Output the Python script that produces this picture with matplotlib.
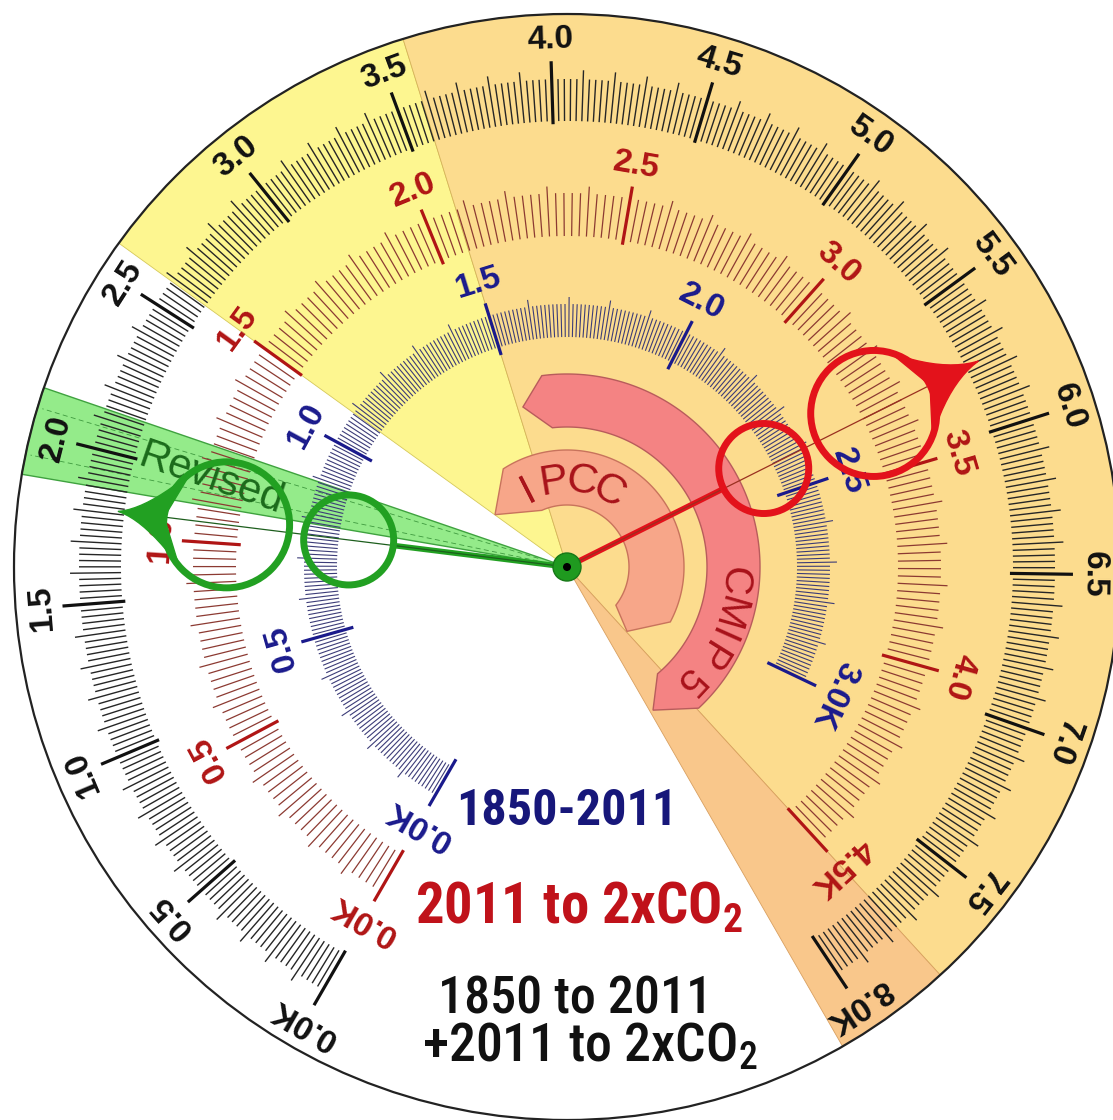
import numpy as np
import matplotlib
matplotlib.use("Agg")
import matplotlib.pyplot as plt
from matplotlib.patches import Polygon, Circle
from matplotlib.collections import LineCollection
from matplotlib import font_manager

# dial geometry (pixels)
W, H = 1113, 1120
CX, CY = 567, 567
R_OUT = 553
ANG0 = 210.0  # compass angle of 0.0 K on every scale

# scales: maximum value (K) and degrees per K
black_max, black_deg = 8.0, 37.05   # 1850 to 2011 + 2011 to 2xCO2
red_max, red_deg = 4.5, 63.9        # 2011 to 2xCO2
blue_max, blue_deg = 3.0, 88.5      # 1850-2011

# pointers, read on the outer (black) scale
pointer_red_K = 5.76
pointer_green_K = 1.81

# "Revised" band on the outer scale
revised_K = (1.88, 2.13)

# salmon bands (compass degrees)
ipcc_span = (327, 478)
cmip5_span = (352.5, 497)

legend_lines = ["1850-2011", "2011 to 2xCO$_2$", "1850 to 2011", "+2011 to 2xCO$_2$"]
legend_colors = ['#17177a', '#c0121a', '#111111', '#111111']

plt.rcParams['font.family'] = ['Liberation Sans', 'DejaVu Sans']
plt.rcParams['mathtext.default'] = 'regular'


def _w(f):
    w = f.weight
    if isinstance(w, str):
        return 700 if 'bold' in w.lower() else 400
    return w


def pick_narrow():
    fl = font_manager.fontManager.ttflist
    for name in ['Liberation Sans Narrow', 'Arial Narrow', 'Roboto Condensed',
                 'PT Sans Narrow', 'Asap Condensed', 'Barlow Semi Condensed']:
        ws = [_w(f) for f in fl if f.name == name]
        if ws:
            return name, any(w >= 600 for w in ws)
    return 'DejaVu Sans', True


NARROW, NARROW_BOLD = pick_narrow()


def xy(theta, r):
    t = np.radians(theta)
    return CX + r * np.sin(t), CY - r * np.cos(t)


def arc(r, th1, th2):
    n = max(8, int(abs(th2 - th1) * 2))
    th = np.radians(np.linspace(th1, th2, n))
    return np.column_stack([CX + r * np.sin(th), CY - r * np.cos(th)])


def sector(ax, th1, th2, r, fc, ec='none', lw=0.6, z=1):
    pts = np.vstack([[CX, CY], arc(r, th1, th2)])
    ax.add_patch(Polygon(pts, closed=True, fc=fc, ec=ec, lw=lw, zorder=z))


def draw_scale(ax, vmax, deg, step, rad, col_major, col_minor, lw_minor, label_r):
    # rad = (minor_in, minor_out, major_in, major_out, medium_out)
    n = int(round(vmax / step))
    per_major = int(round(0.5 / step))
    per_med = int(round(0.1 / step))
    minor, major = [], []
    for i in range(n + 1):
        th = ANG0 + i * step * deg
        if i % per_major == 0:
            major.append([xy(th, rad[2]), xy(th, rad[3])])
        elif i % per_med == 0:
            minor.append([xy(th, rad[0]), xy(th, rad[4])])
        else:
            minor.append([xy(th, rad[0]), xy(th, rad[1])])
    ax.add_collection(LineCollection(minor, colors=col_minor, lw=lw_minor, zorder=3))
    ax.add_collection(LineCollection(major, colors=col_major, lw=2.3, zorder=3))
    for v in np.arange(0, vmax + 0.25, 0.5):
        th = ANG0 + v * deg
        s = f"{v:.1f}"
        if v == 0 or abs(v - vmax) < 1e-6:
            s += "K"
        x, y = xy(th, label_r)
        ax.text(x, y, s, color=col_major, fontsize=24, fontweight='bold',
                rotation=-th, rotation_mode='anchor', ha='center', va='center',
                zorder=4)


def pointer(ax, theta, color, r_tip, hair):
    r1, rad1 = 220, 45
    r2, rad2 = 343, 63
    p1 = xy(theta, r1 - rad1)
    ax.plot([CX, p1[0]], [CY, p1[1]], color=color, lw=4, zorder=8,
            solid_capstyle='round')
    pt = xy(theta, r_tip)
    ax.plot([CX, pt[0]], [CY, pt[1]], color=hair, lw=0.9, zorder=8)
    for rc, rr in ((r1, rad1), (r2, rad2)):
        ax.add_patch(Circle(xy(theta, rc), rr, fill=False, ec=color, lw=5, zorder=8))
    # teardrop arrow head on the big circle
    c2 = np.array(xy(theta, r2))
    tip = np.array(pt)
    u = (tip - c2) / np.linalg.norm(tip - c2)
    v = np.array([-u[1], u[0]])
    pts = []
    for sgn in (1, -1):
        a = np.radians(48)
        b = c2 + rad2 * (np.cos(a) * u + sgn * np.sin(a) * v)
        ctrl = c2 + (rad2 + 18) * u + sgn * 6 * v
        t = np.linspace(0, 1, 12)[:, None]
        seg = (1 - t) ** 2 * b + 2 * t * (1 - t) * ctrl + t ** 2 * tip
        pts.append(seg if sgn == 1 else seg[::-1])
    poly = np.vstack([pts[0], pts[1], [c2 + rad2 * u]])
    ax.add_patch(Polygon(poly, closed=True, fc=color, ec=color, lw=1, zorder=8))


fig = plt.figure(figsize=(W / 100, H / 100), dpi=100)
ax = fig.add_axes([0, 0, 1, 1])
ax.set_xlim(0, W)
ax.set_ylim(H, 0)
ax.axis('off')

# background sectors
th_yellow0 = ANG0 + 1.5 * red_deg
th_yellow1 = ANG0 + 1.5 * blue_deg
th_orange1 = ANG0 + red_max * red_deg
th_dark1 = ANG0 + 8.1 * black_deg
sector(ax, th_yellow0, th_yellow1, R_OUT, '#fdf690', ec='#d6c95a')
sector(ax, th_yellow1, th_orange1, R_OUT, '#fcdc8e', ec='#d6b35a')
sector(ax, th_orange1, th_dark1, R_OUT, '#f9c78b', ec='#d9a060')
g0 = ANG0 + revised_K[0] * black_deg
g1 = ANG0 + revised_K[1] * black_deg
sector(ax, g0, g1, R_OUT, '#94eb8a', ec='#3fa23f', lw=1.0, z=2)
gm = 0.5 * (g0 + g1)
for dth in (-2.5, 2.5):
    a, b = xy(gm + dth, 30), xy(gm + dth, R_OUT - 5)
    ax.plot([a[0], b[0]], [a[1], b[1]], color='#3f9a3f', lw=0.6, ls=(0, (6, 4)), zorder=2)

# scales
draw_scale(ax, black_max, black_deg, 0.02, (446, 488, 443, 506, 497),
           '#111111', '#262626', 1.0, 527)
draw_scale(ax, red_max, red_deg, 0.02, (331, 374, 327, 386, 381),
           '#b01515', '#8c3a32', 0.9, 407)
draw_scale(ax, blue_max, blue_deg, 0.01, (230, 263, 222, 276, 270),
           '#1a1a8c', '#3c3c78', 0.8, 297)

# IPCC / CMIP5 bands
ipcc = np.vstack([arc(117, ipcc_span[0], ipcc_span[1]), [xy(497, 88)],
                  arc(62, 488, 336), [xy(306, 89)]])
ax.add_patch(Polygon(ipcc, closed=True, fc='#f7a689', ec='#c8735c', lw=1.0, zorder=5))
cmip = np.vstack([arc(193, cmip5_span[0], cmip5_span[1]), [xy(509, 167)],
                  arc(140, 499.7, 354), [xy(344.6, 166)]])
ax.add_patch(Polygon(cmip, closed=True, fc='#f48383', ec='#b85c5c', lw=1.0, zorder=5))

for ch, th in zip("IPCC", [333, 351, 10, 29]):
    x, y = xy(th, 86)
    ax.text(x, y, ch, fontsize=31, color='#a8121a', rotation=-th,
            rotation_mode='anchor', ha='center', va='center', zorder=6)
for ch, th in zip("CMIP5", [95, 106, 114, 122, 133]):
    x, y = xy(th, 167)
    ax.text(x, y, ch, fontsize=29, color='#a8121a', rotation=-th,
            rotation_mode='anchor', ha='center', va='center', zorder=6)

ax.text(211, 479, "Revised", fontsize=30, color='#1b6a1b', rotation=-19,
        rotation_mode='anchor', ha='center', va='center', zorder=6)

# pointers
pointer(ax, ANG0 + pointer_red_K * black_deg - 360, '#e3121b', 460, '#9a3020')
pointer(ax, ANG0 + pointer_green_K * black_deg, '#22a022', 452, '#1d5e1d')
ax.add_patch(Circle((CX, CY), 14, fc='#1f9a1f', ec='#177717', lw=1, zorder=9))
ax.add_patch(Circle((CX, CY), 4, fc='black', zorder=10))

# outer rim
ax.add_patch(Circle((CX, CY), R_OUT, fill=False, ec='#222222', lw=1.6, zorder=7))

# legend texts, fitted to the widths seen in the picture
slots = [(567, 825, 221, 'bold'), (579, 923, 328, 'bold'),
         (575, 1013, 274, 'medium'), (590, 1062, 335, 'medium')]
renderer = fig.canvas.get_renderer()
for s, col, (x, y, width, wt) in zip(legend_lines, legend_colors, slots):
    if wt == 'bold' and not NARROW_BOLD:
        wt = 'normal'
    t = ax.text(x, y, s, family=[NARROW, 'DejaVu Sans'], fontstretch='condensed',
                fontsize=40, fontweight=wt, color=col, ha='center', va='baseline',
                zorder=6)
    bb = t.get_window_extent(renderer)
    t.set_fontsize(40 * width / bb.width)

fig.savefig('out.png', dpi=100)
